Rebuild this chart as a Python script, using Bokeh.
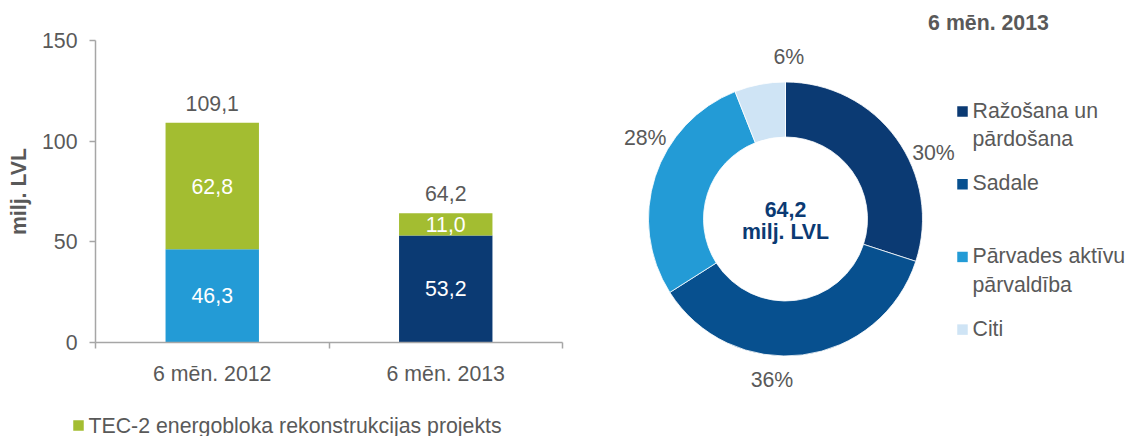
import math
from bokeh.plotting import figure
from bokeh.layouts import row, column
from bokeh.models import Range1d, FixedTicker, ColumnDataSource
from bokeh.core.properties import value
from bokeh.embed import file_html
from bokeh.resources import INLINE

# ---------------- data ----------------
categories = ["6 mēn. 2012", "6 mēn. 2013"]
base_values = [46.3, 53.2]
tec2_values = [62.8, 11.0]
totals = [109.1, 64.2]
y_ticks = [0, 50, 100, 150]
tec2_label = "TEC-2 energobloka rekonstrukcijas projekts"

segments = ["Ražošana un\npārdošana", "Sadale", "Pārvades aktīvu\npārvaldība", "Citi"]
shares = [30, 36, 28, 6]
donut_total = "64,2"
donut_unit = "milj. LVL"
donut_title = "6 mēn. 2013"

# ---------------- style ----------------
FONT = "Liberation Sans"
FS = "21.3px"
GRAY = "#595959"
AXIS = "#a6a6a6"
GREEN = "#a3bd31"
LIGHT = "#239bd6"
NAVY = "#0b3a73"
SADALE = "#07508f"
CITI = "#cfe4f5"
base_colors = [LIGHT, NAVY]
seg_colors = [NAVY, SADALE, LIGHT, CITI]

def fmt(v):
    return f"{v:.1f}".replace(".", ",")

H = 436
H1 = 400
H3 = H - H1
W1 = 598
W2 = 538

# ---------------- bar chart ----------------
n = len(categories)
xs = [i + 0.5 for i in range(n)]
p1 = figure(width=W1, height=H1, x_range=Range1d(0, n), y_range=Range1d(0, 150),
            output_backend="svg", toolbar_location=None, frame_align=False,
            min_border_left=95, min_border_right=36, min_border_top=40, min_border_bottom=H1 - 342)
p1.outline_line_color = None
p1.grid.visible = False

src = ColumnDataSource(dict(
    x=xs,
    top_base=base_values,
    top_tec=[b + t for b, t in zip(base_values, tec2_values)],
    total=totals, base_col=base_colors,
    base_lbl=[fmt(v) for v in base_values],
    tec_lbl=[fmt(v) for v in tec2_values],
    tot_lbl=[fmt(v) for v in totals],
    base_mid=[b / 2 for b in base_values],
    tec_mid=[b + t / 2 for b, t in zip(base_values, tec2_values)],
))
BW = 0.4
p1.vbar(x="x", bottom=0, top="top_base", width=BW, fill_color="base_col", line_color=None, source=src)
p1.vbar(x="x", bottom="top_base", top="top_tec", width=BW, fill_color=GREEN,
        line_color=None, source=src)
p1.text(x="x", y="base_mid", text="base_lbl", source=src, text_color="white",
        text_font=value(FONT), text_font_size=FS, text_align="center", text_baseline="middle")
p1.text(x="x", y="tec_mid", text="tec_lbl", source=src, text_color="white",
        text_font=value(FONT), text_font_size=FS, text_align="center", text_baseline="middle")
p1.text(x="x", y="total", text="tot_lbl", source=src, text_color=GRAY, y_offset=-12,
        text_font=value(FONT), text_font_size=FS, text_align="center", text_baseline="bottom")

yax = p1.yaxis[0]
yax.ticker = FixedTicker(ticks=y_ticks)
yax.axis_line_color = AXIS
yax.axis_line_width = 1.5
yax.major_tick_line_color = AXIS
yax.major_tick_line_width = 1.5
yax.major_tick_in = 0
yax.major_tick_out = 6
yax.minor_tick_line_color = None
yax.major_label_text_font = FONT
yax.major_label_text_font_size = FS
yax.major_label_text_color = GRAY
yax.major_label_standoff = 12
yax.axis_label = "milj. LVL"
yax.axis_label_text_font = FONT
yax.axis_label_text_font_style = "bold"
yax.axis_label_text_font_size = FS
yax.axis_label_text_color = GRAY
yax.axis_label_standoff = 8

xax = p1.xaxis[0]
xax.ticker = FixedTicker(ticks=xs, minor_ticks=list(range(n + 1)))
xax.major_label_overrides = {x: c for x, c in zip(xs, categories)}
xax.axis_line_color = AXIS
xax.axis_line_width = 1.5
xax.major_tick_line_color = None
xax.major_tick_in = 0
xax.major_tick_out = 0
xax.minor_tick_line_color = AXIS
xax.minor_tick_line_width = 1.5
xax.minor_tick_in = 0
xax.minor_tick_out = 6
xax.major_label_text_font = FONT
xax.major_label_text_font_size = FS
xax.major_label_text_color = GRAY
xax.major_label_standoff = 13

# ---------------- legend strip under bar chart ----------------
p3 = figure(width=W1, height=H3, x_range=Range1d(0, W1), y_range=Range1d(0, H3),
            output_backend="svg", toolbar_location=None, frame_align=False,
            min_border=0, min_border_left=0, min_border_right=0, min_border_top=0, min_border_bottom=0)
p3.axis.visible = False
p3.grid.visible = False
p3.outline_line_color = None
LEG_Y = H3 - 25
p3.rect(x=[78], y=[LEG_Y], width=10.5, height=10.5, fill_color=GREEN, line_color=None)
p3.text(x=[88], y=[LEG_Y], text=[tec2_label], text_color=GRAY,
        text_font=value(FONT), text_font_size=FS, text_align="left", text_baseline="middle")

# ---------------- donut ----------------
p2 = figure(width=W2, height=H, x_range=Range1d(0, W2), y_range=Range1d(0, H),
            output_backend="svg", toolbar_location=None, frame_align=False,
            min_border=0, min_border_left=0, min_border_right=0, min_border_top=0, min_border_bottom=0)
p2.axis.visible = False
p2.grid.visible = False
p2.outline_line_color = None

CX, CY = 187, H - 218.5
R_OUT, R_IN = 137, 82
tot = sum(shares)
starts, ends, mids = [], [], []
cum = 0.0
for s in shares:
    a0 = math.pi / 2 - 2 * math.pi * cum / tot
    cum += s
    a1 = math.pi / 2 - 2 * math.pi * cum / tot
    starts.append(a0)
    ends.append(a1)
    mids.append((a0 + a1) / 2)

dsrc = ColumnDataSource(dict(start=starts, end=ends, color=seg_colors))
p2.annular_wedge(x=CX, y=CY, inner_radius=R_IN, outer_radius=R_OUT,
                 start_angle="start", end_angle="end", direction="clock",
                 fill_color="color", line_color="white", line_width=0.8, source=dsrc)

LBL_SHIFT = math.radians(-12)
LBL_R = 162
lx = [CX + LBL_R * math.cos(m + LBL_SHIFT) for m in mids]
ly = [CY + LBL_R * math.sin(m + LBL_SHIFT) for m in mids]
p2.text(x=lx, y=ly, text=[f"{s}%" for s in shares], text_color=GRAY,
        text_font=value(FONT), text_font_size=FS, text_align="center", text_baseline="middle")

p2.text(x=[CX, CX], y=[CY + 10, CY - 13], text=[donut_total, donut_unit], text_color=NAVY,
        text_font=value(FONT), text_font_size=FS, text_font_style="bold",
        text_align="center", text_baseline="middle")

p2.text(x=[390], y=[H - 22], text=[donut_title], text_color=GRAY,
        text_font=value(FONT), text_font_size=FS, text_font_style="bold",
        text_align="center", text_baseline="middle")

LEG_TOP = H - 111
LEG_STEP = 72.7
leg_y = [LEG_TOP - i * LEG_STEP for i in range(len(segments))]
p2.rect(x=[364] * len(segments), y=leg_y, width=10.5, height=10.5,
        fill_color=seg_colors, line_color=None)
p2.text(x=[374] * len(segments), y=[v + 13 for v in leg_y], text=segments, text_color=GRAY,
        text_font=value(FONT), text_font_size=FS, text_align="left", text_baseline="top",
        text_line_height=1.2)

layout = row(column(p1, p3), p2)
open("out.html", "w").write(file_html(layout, INLINE))
